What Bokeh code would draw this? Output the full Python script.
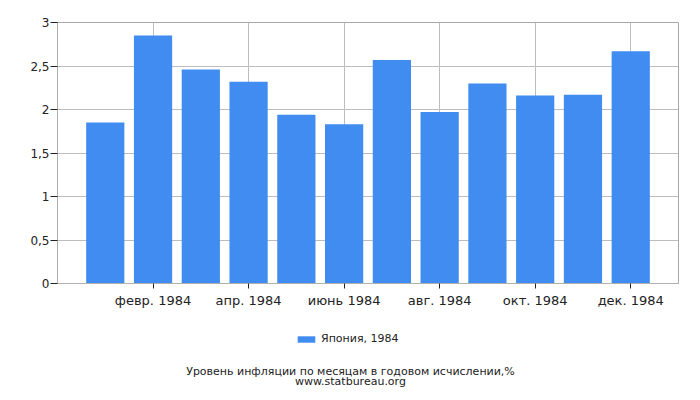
from bokeh.plotting import figure
from bokeh.layouts import column
from bokeh.models import ColumnDataSource, FixedTicker, Legend, LegendItem, Label
from bokeh.embed import file_html
from bokeh.resources import INLINE

months = ["янв. 1984", "февр. 1984", "март 1984", "апр. 1984", "май 1984", "июнь 1984",
          "июль 1984", "авг. 1984", "сент. 1984", "окт. 1984", "нояб. 1984", "дек. 1984"]
values = [1.85, 2.85, 2.46, 2.32, 1.94, 1.83, 2.57, 1.97, 2.30, 2.16, 2.17, 2.67]
y_ticks = [0, 0.5, 1, 1.5, 2, 2.5, 3]
y_tick_labels = ["0", "0,5", "1", "1,5", "2", "2,5", "3"]
series_name = "Япония, 1984"
title_text = "Уровень инфляции по месяцам в годовом исчислении,%"
source_text = "www.statbureau.org"

FONT = "DejaVu Sans"
BAR = "#418CF0"
TXT = "#222222"

src = ColumnDataSource(dict(x=list(range(len(months))), top=values))

p = figure(width=700, height=320, output_backend="svg", toolbar_location=None,
           x_range=(-1, 12), y_range=(0, 3),
           min_border_left=57, min_border_right=22, min_border_top=22, min_border_bottom=37)

r = p.vbar(x="x", top="top", width=0.8, source=src, fill_color=BAR, line_color=None)

even_idx = list(range(1, 12, 2))
p.xaxis.ticker = FixedTicker(ticks=even_idx)
p.xaxis.major_label_overrides = {i: months[i] for i in even_idx}
p.yaxis.ticker = FixedTicker(ticks=y_ticks)
p.yaxis.major_label_overrides = {t: l for t, l in zip(y_ticks, y_tick_labels)}

for ax in (p.xaxis, p.yaxis):
    ax.axis_line_color = "#b0b0b0"
    ax.major_tick_line_color = TXT
    ax.minor_tick_line_color = None
    ax.major_tick_in = 0
    ax.major_label_text_font = FONT
    ax.major_label_text_color = TXT
p.xaxis.major_tick_out = 5
p.yaxis.major_tick_out = 7
p.xaxis.major_label_text_font_size = "13px"
p.yaxis.major_label_text_font_size = "12px"
p.xaxis.major_label_standoff = 4
p.yaxis.major_label_standoff = 1

p.xgrid.ticker = FixedTicker(ticks=even_idx)
p.ygrid.ticker = FixedTicker(ticks=y_ticks)
p.grid.grid_line_color = "#bdbdbd"
p.outline_line_color = "#a8a8a8"
p.background_fill_color = "white"
p.border_fill_color = "white"

# bottom panel: legend and captions; its y range lies far above the series values,
# so the series drawn here (only for the legend swatch) stays out of view
Y0 = 1000
q = figure(width=700, height=80, output_backend="svg", toolbar_location=None,
           x_range=(57, 678), y_range=(Y0, Y0 + 80),
           min_border_left=57, min_border_right=22, min_border_top=0, min_border_bottom=0)
q.axis.visible = False
q.grid.visible = False
q.outline_line_color = None
q.border_fill_color = "white"
q.background_fill_color = "white"

swatch = q.vbar(x="x", top="top", width=0.8, source=src, fill_color=BAR, line_color=None)
legend = Legend(items=[LegendItem(label=series_name, renderers=[swatch])],
                orientation="horizontal", location=(238, 55),
                border_line_color=None, background_fill_alpha=0,
                label_text_font=FONT, label_text_font_size="11px", label_text_color=TXT,
                glyph_width=22, glyph_height=8, padding=0, margin=0,
                label_standoff=4, label_height=9)
q.add_layout(legend, "center")

for txt, yy in ((title_text, 29.5), (source_text, 19.5)):
    q.add_layout(Label(x=350, y=Y0 + yy, text=txt,
                       text_align="center", text_baseline="middle",
                       text_font=FONT, text_font_size="11px", text_color=TXT))

layout = column(p, q, spacing=0)
open("out.html", "w").write(file_html(layout, INLINE))
